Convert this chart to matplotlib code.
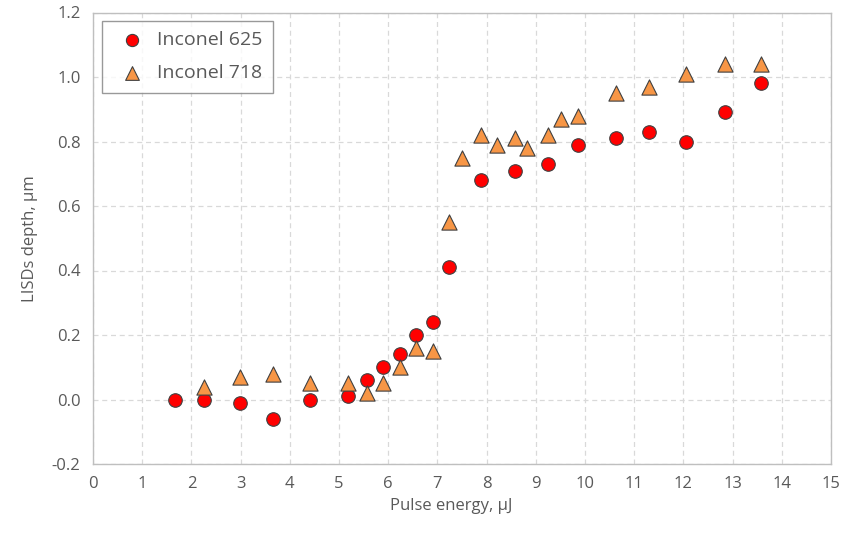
import numpy as np
import matplotlib.pyplot as plt

# pulse energy (uJ) and depth (um)
e625 = [1.67, 2.26, 2.99, 3.66, 4.42, 5.19, 5.56, 5.90, 6.23, 6.57, 6.92,
        7.23, 7.88, 8.57, 9.24, 9.85, 10.62, 11.30, 12.05, 12.84, 13.58]
d625 = [0.00, 0.00, -0.01, -0.06, 0.00, 0.01, 0.06, 0.10, 0.14, 0.20, 0.24,
        0.41, 0.68, 0.71, 0.73, 0.79, 0.81, 0.83, 0.80, 0.89, 0.98]

e718 = [2.26, 2.99, 3.66, 4.42, 5.19, 5.56, 5.90, 6.23, 6.57, 6.92, 7.23,
        7.49, 7.88, 8.22, 8.57, 8.83, 9.24, 9.51, 9.85, 10.62, 11.30, 12.05,
        12.84, 13.58]
d718 = [0.04, 0.07, 0.08, 0.05, 0.05, 0.02, 0.05, 0.10, 0.16, 0.15, 0.55,
        0.75, 0.82, 0.79, 0.81, 0.78, 0.82, 0.87, 0.88, 0.95, 0.97, 1.01,
        1.04, 1.04]

xticks = np.arange(0, 16, 1)
yticks = np.arange(-0.2, 1.21, 0.2)

plt.rcParams['font.family'] = ['Open Sans', 'DejaVu Sans']
txt = '#595959'
edge = '#bfbfbf'

fig = plt.figure(figsize=(8.43, 5.33), dpi=100)
ax = fig.add_axes([93 / 843, 1 - 464 / 533, (831 - 93) / 843, (464 - 12.5) / 533])

ax.scatter(e625, d625, s=95, marker='o', facecolor='#ff0000',
           edgecolor='#404040', linewidth=0.8, zorder=3, label='Inconel 625')
ax.scatter(e718, d718, s=120, marker='^', facecolor='#f79646',
           edgecolor='#404040', linewidth=0.8, zorder=3, label='Inconel 718')

ax.set_xlim(0, 15)
ax.set_ylim(-0.2, 1.2)
ax.set_xticks(xticks)
ax.set_yticks(yticks)
ax.set_yticklabels(['%.1f' % v for v in yticks])
ax.grid(True, color='#d9d9d9', linestyle=(0, (4, 3)), linewidth=0.9)
ax.set_axisbelow(True)
for s in ax.spines.values():
    s.set_color(edge)
    s.set_linewidth(1.0)
ax.tick_params(length=0, labelsize=12, colors=txt, pad=9)

ax.set_xlabel('Pulse energy, μJ', fontsize=12, color=txt, labelpad=6)
ax.xaxis.set_label_coords(0.485, -0.075)
ax.set_ylabel('LISDs depth, μm', fontsize=12, color=txt, labelpad=10)

leg = ax.legend(loc='upper left', bbox_to_anchor=(0.012, 0.982), fontsize=14,
                frameon=True, fancybox=False, borderpad=0.55, labelspacing=0.75,
                handletextpad=0.3, borderaxespad=0.0, scatterpoints=1,
                markerscale=0.9)
leg.get_frame().set_edgecolor('#808080')
leg.get_frame().set_linewidth(1.0)
for t in leg.get_texts():
    t.set_color(txt)

fig.savefig('out.png', dpi=100)
